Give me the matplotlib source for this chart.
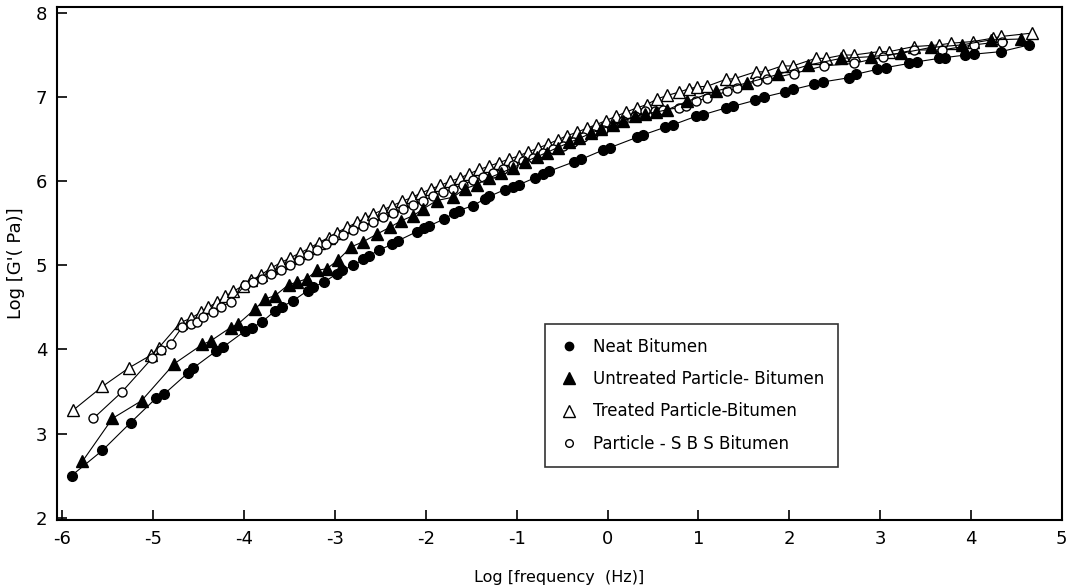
import matplotlib
matplotlib.use("Agg")
import matplotlib.pyplot as plt
from matplotlib.lines import Line2D

# ---- data ----
neat_x = [-5.90, -5.56, -5.25, -4.97, -4.88, -4.62, -4.56, -4.31, -4.23, -3.99, -3.91, -3.80,
          -3.66, -3.58, -3.46, -3.30, -3.24, -3.12, -2.98, -2.92, -2.80, -2.69, -2.63, -2.52,
          -2.37, -2.31, -2.10, -2.02, -1.96, -1.80, -1.69, -1.64, -1.48, -1.35, -1.30, -1.13,
          -1.04, -0.97, -0.80, -0.71, -0.64, -0.37, -0.29, -0.05, 0.03, 0.32, 0.39, 0.63,
          0.72, 0.97, 1.05, 1.30, 1.38, 1.62, 1.72, 1.95, 2.04, 2.27, 2.37, 2.66, 2.73, 2.97,
          3.06, 3.32, 3.41, 3.65, 3.72, 3.94, 4.03, 4.33, 4.64]
neat_y = [2.50, 2.80, 3.13, 3.42, 3.47, 3.72, 3.78, 3.98, 4.03, 4.22, 4.26, 4.33,
          4.46, 4.51, 4.58, 4.70, 4.74, 4.80, 4.90, 4.94, 5.00, 5.07, 5.11, 5.18,
          5.25, 5.29, 5.40, 5.44, 5.47, 5.55, 5.62, 5.65, 5.71, 5.79, 5.82, 5.90,
          5.93, 5.96, 6.04, 6.09, 6.12, 6.23, 6.26, 6.37, 6.40, 6.52, 6.55, 6.64,
          6.67, 6.77, 6.79, 6.87, 6.89, 6.96, 7.00, 7.06, 7.09, 7.15, 7.18, 7.23, 7.27, 7.33,
          7.35, 7.40, 7.42, 7.46, 7.47, 7.50, 7.51, 7.54, 7.62]

untr_x = [-5.78, -5.45, -5.13, -4.77, -4.46, -4.37, -4.15, -4.07, -3.88, -3.77, -3.66, -3.51,
          -3.42, -3.31, -3.20, -3.09, -2.97, -2.82, -2.69, -2.54, -2.40, -2.27, -2.14, -2.03,
          -1.88, -1.70, -1.57, -1.44, -1.30, -1.17, -1.04, -0.91, -0.78, -0.67, -0.55, -0.42,
          -0.31, -0.18, -0.07, 0.06, 0.17, 0.30, 0.41, 0.53, 0.66, 0.88, 1.19, 1.54, 1.88,
          2.21, 2.57, 2.90, 3.23, 3.56, 3.90, 4.22, 4.55]
untr_y = [2.67, 3.18, 3.39, 3.83, 4.06, 4.10, 4.26, 4.30, 4.48, 4.60, 4.64, 4.77,
          4.80, 4.84, 4.94, 4.96, 5.06, 5.22, 5.28, 5.37, 5.45, 5.53, 5.59, 5.67,
          5.77, 5.81, 5.91, 5.96, 6.04, 6.10, 6.16, 6.23, 6.29, 6.34, 6.40, 6.46,
          6.51, 6.57, 6.62, 6.67, 6.72, 6.77, 6.80, 6.82, 6.85, 6.95, 7.07, 7.17, 7.27,
          7.38, 7.46, 7.48, 7.52, 7.59, 7.62, 7.68, 7.69]

trt_x = [-5.88, -5.56, -5.27, -5.03, -4.94, -4.70, -4.59, -4.48, -4.40, -4.30, -4.21, -4.12,
         -4.01, -3.92, -3.81, -3.70, -3.60, -3.49, -3.38, -3.27, -3.18, -3.07, -2.98, -2.87,
         -2.76, -2.67, -2.58, -2.47, -2.37, -2.26, -2.15, -2.05, -1.94, -1.84, -1.73, -1.62,
         -1.52, -1.41, -1.30, -1.20, -1.09, -0.98, -0.87, -0.77, -0.66, -0.55, -0.45, -0.34,
         -0.23, -0.13, -0.02, 0.09, 0.20, 0.32, 0.43, 0.55, 0.66, 0.79, 0.90, 0.99, 1.10,
         1.30, 1.40, 1.63, 1.73, 1.92, 2.04, 2.29, 2.40, 2.59, 2.71, 2.99, 3.10, 3.37, 3.65,
         3.78, 4.02, 4.24, 4.33, 4.67]
trt_y = [3.28, 3.56, 3.78, 3.93, 4.02, 4.32, 4.37, 4.44, 4.50, 4.56, 4.63, 4.69,
         4.76, 4.82, 4.89, 4.97, 5.03, 5.09, 5.15, 5.21, 5.27, 5.33, 5.39, 5.45,
         5.51, 5.56, 5.61, 5.66, 5.71, 5.76, 5.81, 5.86, 5.91, 5.95, 6.00, 6.04,
         6.09, 6.14, 6.18, 6.22, 6.26, 6.30, 6.35, 6.39, 6.44, 6.49, 6.54, 6.58,
         6.63, 6.67, 6.72, 6.77, 6.82, 6.87, 6.91, 6.98, 7.02, 7.06, 7.10, 7.12, 7.13,
         7.21, 7.22, 7.30, 7.30, 7.37, 7.37, 7.46, 7.46, 7.50, 7.50, 7.54, 7.54, 7.60, 7.62,
         7.64, 7.66, 7.70, 7.72, 7.76]

sbs_x = [-5.66, -5.35, -5.01, -4.92, -4.81, -4.68, -4.59, -4.52, -4.45, -4.34, -4.25, -4.15,
         -3.99, -3.90, -3.80, -3.70, -3.60, -3.50, -3.40, -3.30, -3.20, -3.10, -3.02, -2.91,
         -2.80, -2.69, -2.58, -2.47, -2.36, -2.25, -2.14, -2.03, -1.92, -1.81, -1.70, -1.59,
         -1.48, -1.37, -1.26, -1.15, -1.04, -0.93, -0.82, -0.71, -0.60, -0.49, -0.38, -0.27,
         -0.16, -0.05, 0.06, 0.17, 0.30, 0.41, 0.52, 0.61, 0.79, 0.86, 0.97, 1.10, 1.32,
         1.43, 1.65, 1.76, 2.05, 2.38, 2.71, 3.03, 3.37, 3.68, 4.03, 4.34]
sbs_y = [3.18, 3.49, 3.90, 3.99, 4.07, 4.27, 4.30, 4.33, 4.39, 4.45, 4.51, 4.56,
         4.77, 4.80, 4.84, 4.90, 4.95, 5.00, 5.06, 5.12, 5.18, 5.25, 5.31, 5.36,
         5.42, 5.47, 5.52, 5.57, 5.62, 5.67, 5.72, 5.77, 5.82, 5.87, 5.91, 5.96,
         6.01, 6.05, 6.10, 6.15, 6.19, 6.24, 6.28, 6.33, 6.38, 6.42, 6.47, 6.52,
         6.56, 6.61, 6.66, 6.71, 6.77, 6.83, 6.83, 6.85, 6.87, 6.89, 6.95, 6.99, 7.07,
         7.11, 7.19, 7.21, 7.28, 7.37, 7.40, 7.48, 7.56, 7.56, 7.62, 7.66]

x_ticks = [-6, -5, -4, -3, -2, -1, 0, 1, 2, 3, 4, 5]
y_ticks = [2, 3, 4, 5, 6, 7, 8]
labels = ["Neat Bitumen", "Untreated Particle- Bitumen",
          "Treated Particle-Bitumen", "Particle - S B S Bitumen"]

# ---- drawing ----
fig = plt.figure(figsize=(10.66, 5.88), dpi=100)
ax = fig.add_axes([0.0535, 0.116, 0.9425, 0.872])

lw = 0.8
ax.plot(neat_x, neat_y, color="black", lw=lw, marker="o", ms=7,
        mfc="black", mec="black", zorder=3)
ax.plot(untr_x, untr_y, color="black", lw=lw, marker="^", ms=8.5,
        mfc="black", mec="black", zorder=4)
ax.plot(trt_x, trt_y, color="black", lw=lw, marker="^", ms=9,
        mfc="white", mec="black", mew=1.0, zorder=2)
ax.plot(sbs_x, sbs_y, color="black", lw=lw, marker="o", ms=6.5,
        mfc="white", mec="black", mew=1.0, zorder=2.5)

ax.set_xlim(-6.06, 4.99)
ax.set_ylim(1.975, 8.07)
ax.set_xticks(x_ticks)
ax.set_xticklabels([str(t) for t in x_ticks])
ax.set_yticks(y_ticks)
ax.tick_params(direction="in", length=7, width=1.2, labelsize=13, pad=7)
for s in ax.spines.values():
    s.set_linewidth(1.5)

ax.set_xlabel("Log [frequency  (Hz)]", fontsize=11.5, labelpad=16)
ax.set_ylabel("Log [G'( Pa)]", fontsize=13, labelpad=8)

handles = [
    Line2D([], [], ls="none", marker="o", ms=6, mfc="black", mec="black"),
    Line2D([], [], ls="none", marker="^", ms=8, mfc="black", mec="black"),
    Line2D([], [], ls="none", marker="^", ms=8, mfc="white", mec="black"),
    Line2D([], [], ls="none", marker="o", ms=5.5, mfc="white", mec="black"),
]
leg = ax.legend(handles, labels, loc="upper left", bbox_to_anchor=(0.486, 0.382),
                fontsize=12, frameon=True, fancybox=False, edgecolor="black",
                labelspacing=0.85, handletextpad=0.8, borderpad=0.85,
                handlelength=1.2, borderaxespad=0)
leg.get_frame().set_linewidth(1.2)

fig.savefig("out.png", dpi=100)
